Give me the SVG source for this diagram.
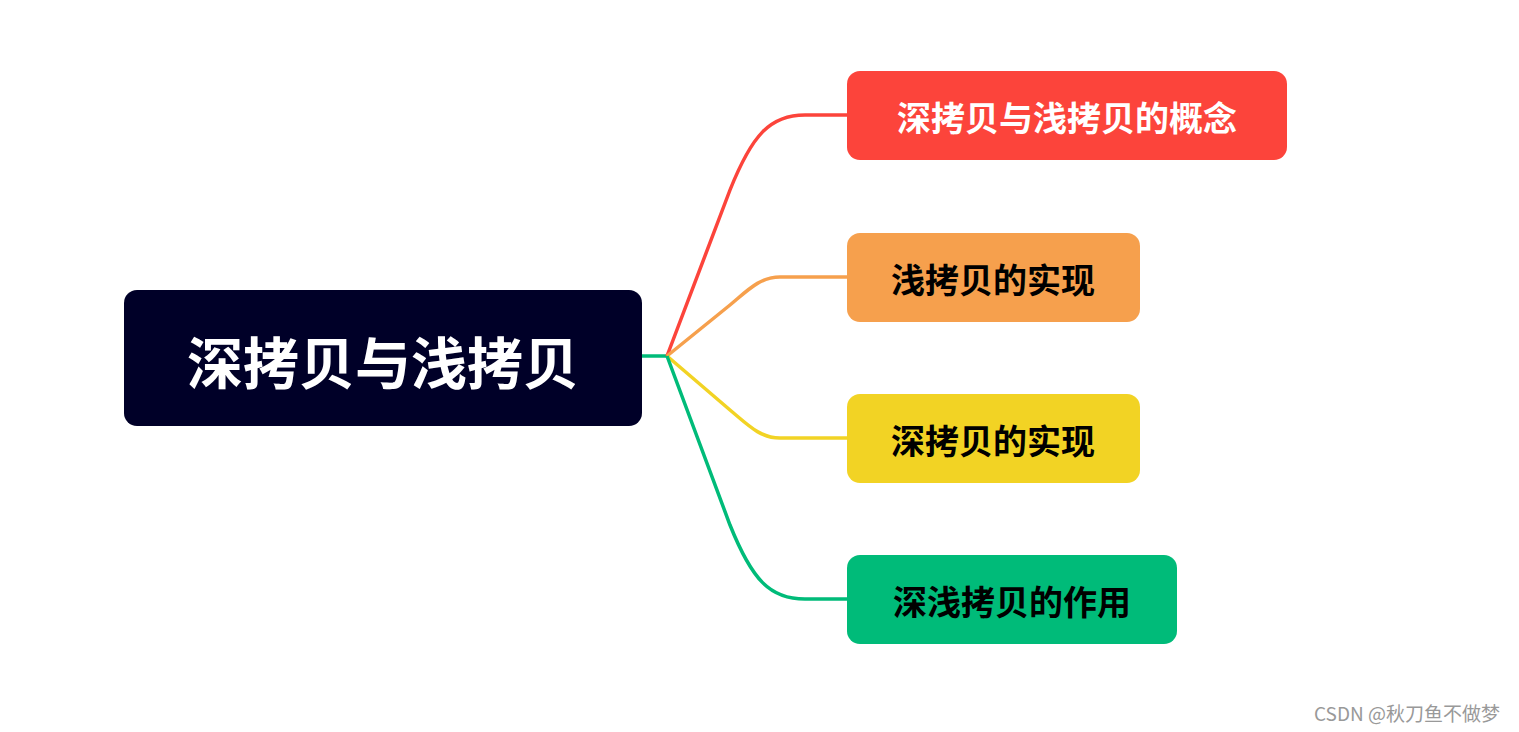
<svg xmlns="http://www.w3.org/2000/svg" width="1519" height="732" viewBox="0 0 1519 732">
<style>
text{font-family:"Noto Sans CJK SC","Liberation Sans",sans-serif;font-weight:bold;dominant-baseline:central;text-anchor:middle}
.c{fill:none;stroke-width:3.5}
.t{font-size:34px;fill:#000}
</style>
<rect width="1519" height="732" fill="#fff"/>
<g id="connectors">
<path class="c" stroke="#00bb79" d="M642,356 H667"/>
<path class="c" stroke="#fc443b" d="M667,356 L730,190 C752,135 770,115 805,115 H848"/>
<path class="c" stroke="#f6a04d" d="M667,356 L730,305 C748,290 760,277 780,277 H848"/>
<path class="c" stroke="#f2d324" d="M667,356 L730,410 C748,425 760,438 780,438 H848"/>
<path class="c" stroke="#00bb79" d="M667,356 L730,525 C752,580 770,599 805,599 H848"/>
</g>
<g id="root"><rect x="124" y="290" width="518" height="136" rx="13" fill="#000028"/><text x="383" y="359" font-size="56" fill="#fff">深拷贝与浅拷贝</text></g>
<g id="n1"><rect x="847" y="71" width="440" height="89" rx="13" fill="#fc443b"/><text class="t" x="1067" y="116" fill="#fff" style="fill:#fff">深拷贝与浅拷贝的概念</text></g>
<g id="n2"><rect x="847" y="233" width="293" height="89" rx="13" fill="#f6a04d"/><text class="t" x="993" y="278">浅拷贝的实现</text></g>
<g id="n3"><rect x="847" y="394" width="293" height="89" rx="13" fill="#f2d324"/><text class="t" x="993" y="439">深拷贝的实现</text></g>
<g id="n4"><rect x="847" y="555" width="330" height="89" rx="13" fill="#00bb79"/><text class="t" x="1012" y="600">深浅拷贝的作用</text></g>
<text x="1407" y="712" font-size="19" style="font-weight:normal" fill="#999">CSDN @秋刀鱼不做梦</text>
</svg>
